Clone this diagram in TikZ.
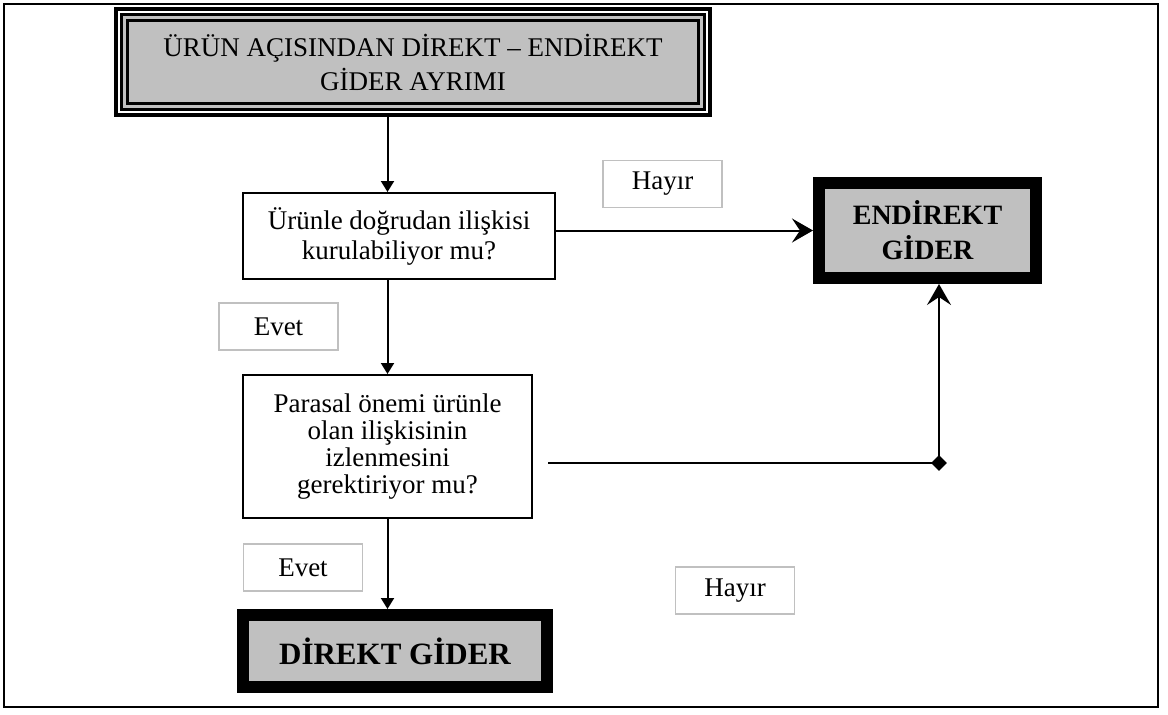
\documentclass[tikz,border=0pt]{standalone}
\usepackage{fontspec}
\setmainfont{Liberation Serif}
\usetikzlibrary{arrows.meta, shapes.geometric}
\definecolor{boxgray}{HTML}{C0C0C0}
\tikzset{
  question box/.style={
    draw,
    line width=2pt,
    align=center,
    inner sep=0pt,
  },
  result box/.style={
    draw,
    line width=12pt,
    fill=boxgray,
    align=center,
    inner sep=0pt,
  },
  answer box/.style={
    draw=boxgray,
    line width=1.5pt,
    minimum width=119pt,
    minimum height=47pt,
    font=\fontsize{27}{30}\selectfont,
  },
  down arrow/.style={line width=2pt, -{Triangle[length=11pt, width=13pt]}},
  side arrow/.style={line width=2pt, -{Stealth[length=21pt, width=24pt, inset=8pt]}},
}

\begin{document}
\begin{tikzpicture}[x=1pt, y=-1pt]
        \useasboundingbox (0,0) rectangle (1168,715);
        \draw[line width=1.5pt] (4,4) rectangle (1158,707);

        \node[draw, line width=4pt, minimum width=594pt, minimum height=106pt] (title frame) at (413,62) {};
        \node[draw, fill=boxgray, line width=3pt, double=boxgray, double distance=3pt, outer sep=0pt,
              minimum width=577pt, minimum height=89pt, align=center,
              font=\fontsize{27}{34}\selectfont] (title) at (413,62) {ÜRÜN AÇISINDAN DİREKT – ENDİREKT\\GİDER AYRIMI};

        \node[question box, minimum width=312pt, minimum height=86pt, font=\fontsize{27}{30}\selectfont] (box1) at (399,236) {Ürünle doğrudan ilişkisi\\kurulabiliyor mu?};
        \node[question box, minimum width=289pt, minimum height=143pt, font=\fontsize{27}{27}\selectfont] (box2) at (387.5,446.5) {Parasal önemi ürünle\\olan ilişkisinin\\izlenmesini\\gerektiriyor mu?};

        \node[result box, minimum width=217pt, minimum height=95pt, font=\fontsize{28}{35}\selectfont\bfseries] (endirekt) at (927.5,230.5) {ENDİREKT\\GİDER};
        \node[result box, minimum width=304pt, minimum height=72pt, font=\fontsize{31}{36}\selectfont\bfseries] (direkt) at (395,651) {DİREKT GİDER};

        \node[diamond, fill, inner sep=0pt, minimum size=16pt] (corner) at (939,463) {};

        \node[answer box] (hayir top)    at (662.5,184)   {Hayır};
        \node[answer box] (evet top)     at (278.5,326.5) {Evet};
        \node[answer box] (evet bottom)  at (303,567.5)   {Evet};
        \node[answer box] (hayir bottom) at (735,590.5)   {Hayır};

        \draw[down arrow] (title frame.south -| box2.north) to (box1.north -| box2.north);
        \draw[down arrow] (box1.south -| box2.north) to (box2.north);
        \draw[down arrow] (box2.south) to (direkt.north -| box2.south);

        \draw[side arrow] (box1.east |- endirekt.west) to (endirekt.west);
        \draw[side arrow, shorten <=15pt] (box2.east |- corner) -- (corner.center) -- (endirekt.south -| corner);
      \end{tikzpicture}
\end{document}
